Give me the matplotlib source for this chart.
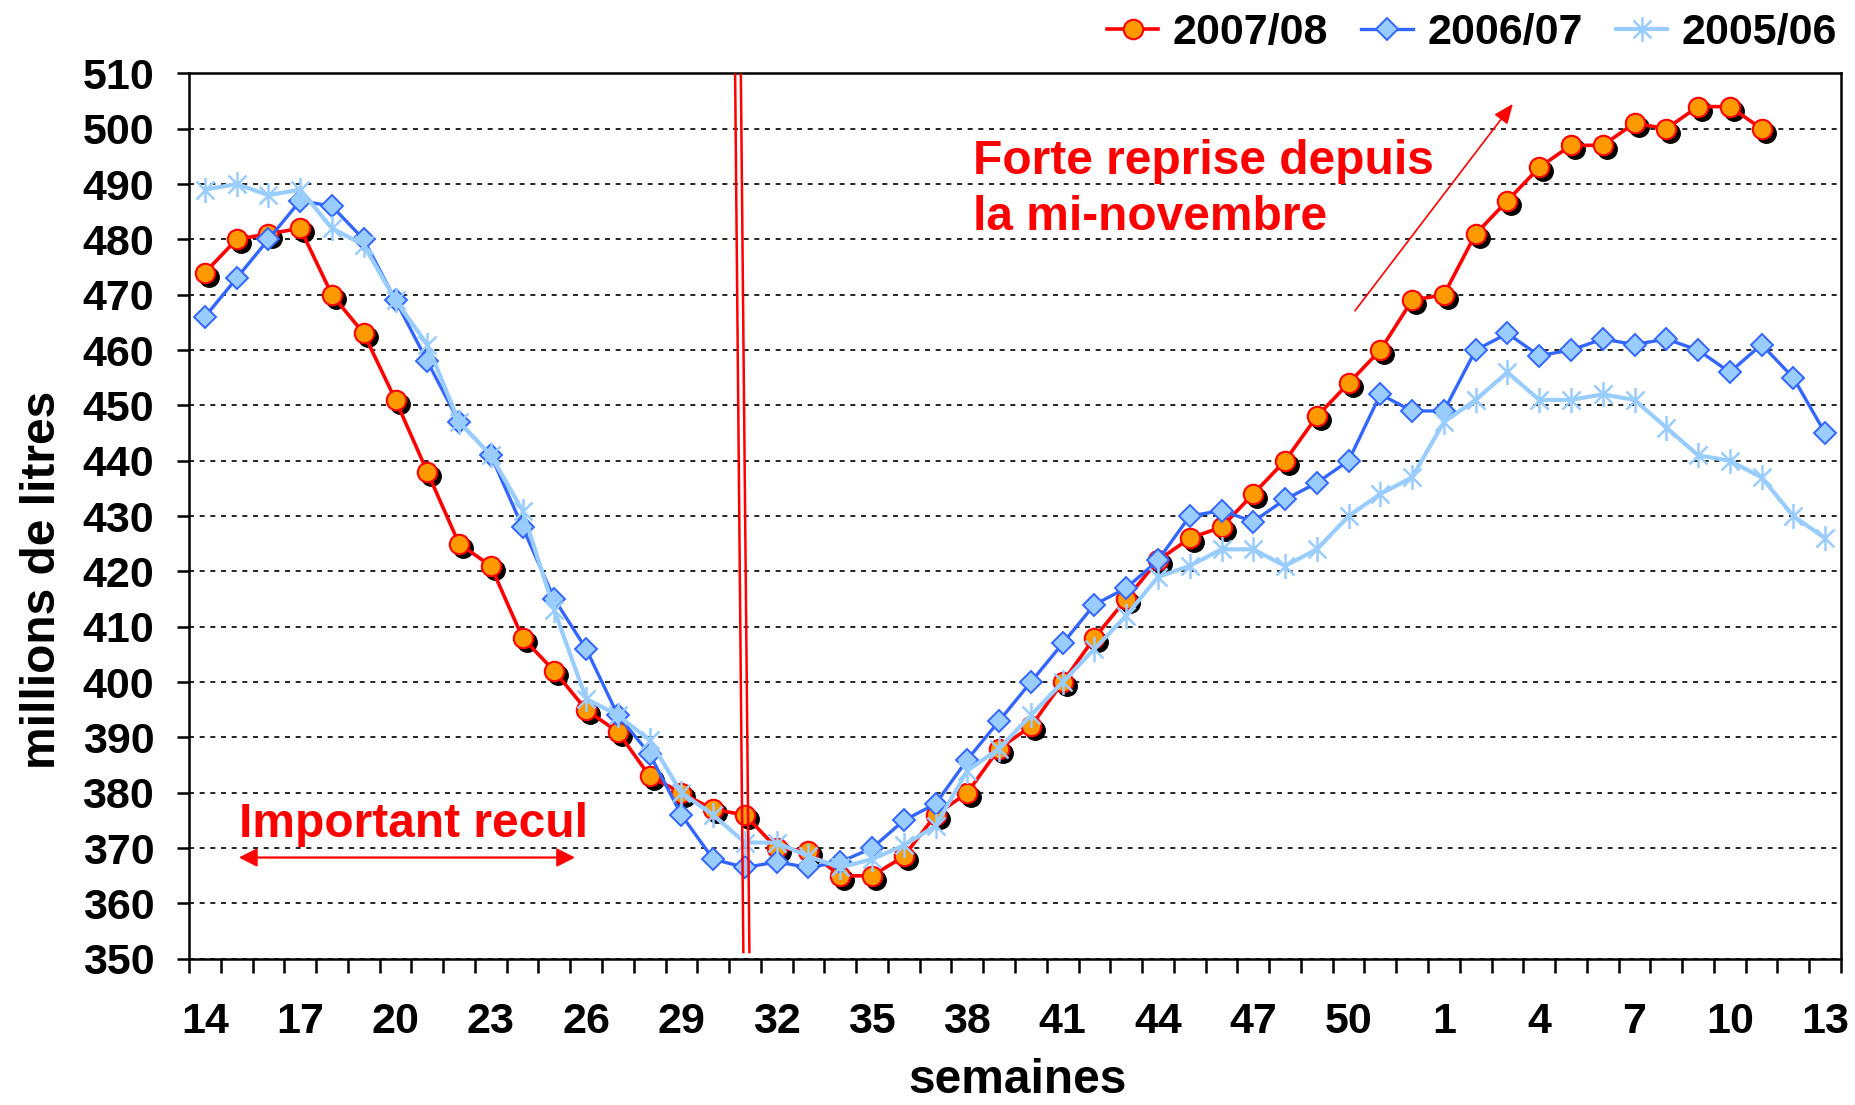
import numpy as np
import matplotlib
matplotlib.use("Agg")
import matplotlib.pyplot as plt
from matplotlib.path import Path
from matplotlib import transforms

plt.rcParams["font.family"] = ["Liberation Sans", "DejaVu Sans"]
plt.rcParams["font.weight"] = "bold"

# semaines (campagne de la semaine 14 a la semaine 13 suivante)
weeks = [14, 15, 16, 17, 18, 19, 20, 21, 22, 23, 24, 25, 26, 27, 28, 29, 30,
         31, 32, 33, 34, 35, 36, 37, 38, 39, 40, 41, 42, 43, 44, 45, 46, 47,
         48, 49, 50, 51, 52, 1, 2, 3, 4, 5, 6, 7, 8, 9, 10, 11, 12, 13]

# millions de litres
s2007 = [474, 480, 481, 482, 470, 463, 451, 438, 425, 421, 408, 402, 395,
         391, 383, 380, 377, 376, 370, 369.5, 365, 365, 368.5, 376, 380, 388,
         392, 400, 408, 415, 422, 426, 428, 434, 440, 448, 454, 460, 469,
         470, 481, 487, 493, 497, 497, 501, 500, 504, 504, 500, np.nan, np.nan]
s2006 = [466, 473, 480, 487, 486, 480, 469, 458, 447, 441, 428, 415, 406,
         394, 387, 376, 368, 366.5, 367.5, 366.5, 367.5, 370, 375, 378, 386,
         393, 400, 407, 414, 417, 422, 430, 431, 429, 433, 436, 440, 452, 449,
         449, 460, 463, 459, 460, 462, 461, 462, 460, 456, 461, 455, 445]
s2005 = [489, 490, 488, 489, 482, 479, 469, 461, 447, 441, 431, 413, 397,
         394, 389.5, 380, 376, 371, 371, 368.5, 366.5, 368, 370.5, 374, 384,
         388, 394, 400, 406, 412, 419, 421, 424, 424, 421, 424, 430, 434, 437,
         447, 451, 456, 451, 451, 452, 451, 446, 441, 440, 437, 430, 426]
series_labels = ["2007/08", "2006/07", "2005/06"]

RED = "#FF0000"
ORANGE = "#FF9900"
BLUE = "#3366FF"
LIGHT = "#99CCFF"

# asterisque facon Excel : barre verticale + croix
star = Path([(0, -1), (0, 1), (-0.72, -0.72), (0.72, 0.72), (-0.72, 0.72), (0.72, -0.72)],
            [Path.MOVETO, Path.LINETO] * 3)

W, H = 1856, 1105
fig = plt.figure(figsize=(W / 100, H / 100), dpi=100)
left, right, top, bottom = 189, 1841, 73.4, 958.8
ax = fig.add_axes([left / W, 1 - bottom / H, (right - left) / W, (bottom - top) / H])

x = np.arange(len(weeks))

# ombre des ronds
shadow = transforms.offset_copy(ax.transData, fig=fig, x=4, y=-4, units="dots")
ax.plot(x, s2007, linestyle="none", marker="o", ms=14, color="black", transform=shadow, zorder=2)
ax.plot(x, s2007, color=RED, lw=2.6, marker="o", ms=14, mfc=ORANGE, mec=RED, mew=1.5,
        label=series_labels[0], zorder=3)
ax.plot(x, s2006, color=BLUE, lw=2.4, marker="D", ms=11, mfc=LIGHT, mec=BLUE, mew=1.4,
        label=series_labels[1], zorder=4)
ax.plot(x, s2005, color=LIGHT, lw=3.0, marker=star, ms=18, mec=LIGHT, mew=1.8,
        label=series_labels[2], zorder=5)

ax.set_xlim(-0.5, len(weeks) - 0.5)
ax.set_ylim(350, 510)
ax.set_yticks(np.arange(350, 511, 10))
ax.set_xticks(x[::3])
ax.set_xticklabels([str(w) for w in weeks[::3]])
ax.set_xticks(np.arange(-0.5, len(weeks), 1), minor=True)
ax.tick_params(axis="x", which="major", length=0, pad=31, labelsize=31)
ax.tick_params(axis="x", which="minor", length=10, width=1.8, direction="out")
ax.tick_params(axis="y", which="major", length=9, width=1.8, direction="out", pad=16, labelsize=31)
for sp in ax.spines.values():
    sp.set_linewidth(1.8)
    sp.set_color("black")
ax.yaxis.grid(True, color="black", lw=1.2, linestyle=(0, (3, 3.4)))
ax.set_axisbelow(True)

# double trait vertical rouge
for x0, x1 in [(16.69, 16.95), (16.87, 17.14)]:
    ax.plot([x0, x1], [510, 351], color=RED, lw=1.8, zorder=6, solid_capstyle="butt")

ax.annotate("", xy=(1.07, 368.3), xytext=(11.65, 368.3),
            arrowprops=dict(arrowstyle="<|-|>,head_length=0.55,head_width=0.28",
                            color=RED, lw=1.6, mutation_scale=20, shrinkA=0, shrinkB=0))
ax.text(1.07, 372, "Important recul", color=RED, fontsize=34.5, ha="left", va="baseline")

ax.annotate("", xy=(41.17, 504.5), xytext=(36.2, 467.1),
            arrowprops=dict(arrowstyle="-|>,head_length=0.6,head_width=0.25",
                            color=RED, lw=1.2, mutation_scale=20, shrinkA=0, shrinkB=0))
ax.text(24.18, 491.8, "Forte reprise depuis", color=RED, fontsize=34.5, ha="left", va="baseline")
ax.text(24.18, 481.7, "la mi-novembre", color=RED, fontsize=34.5, ha="left", va="baseline")

fig.text(43 / W, 1 - 580 / H, "millions de litres", rotation=90, fontsize=34.5,
         ha="center", va="center")
fig.text(1018 / W, 2 / H, "semaines", fontsize=34.5, ha="center", va="bottom")

ax.legend(loc="center right", bbox_to_anchor=(1837 / W, 1 - 33 / H), bbox_transform=fig.transFigure,
          ncol=3, frameon=False, fontsize=31, borderpad=0, borderaxespad=0,
          handlelength=1.2, handletextpad=0.33, columnspacing=0.77)

fig.savefig("out.png", dpi=100, facecolor="white")
